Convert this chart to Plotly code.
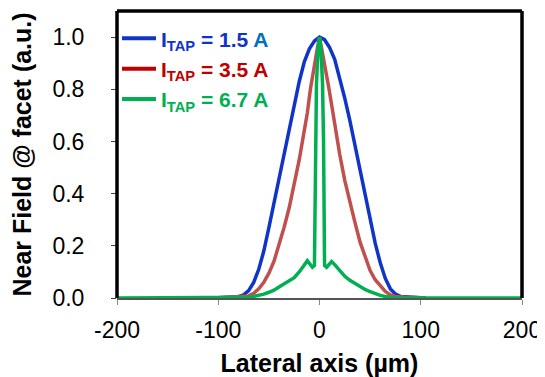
import plotly.graph_objects as go

# ---- data ----
blue_x = [-105, -100, -90, -80, -75, -70, -65, -60, -55, -50, -45, -40, -35, -30, -25, -20, -15, -10, -5, 0,
          5, 10, 15, 20, 25, 30, 35, 40, 45, 50, 55, 60, 65, 70, 75, 80, 90, 100, 105]
blue_y = [0.0, 0.002, 0.003, 0.005, 0.012, 0.028, 0.06, 0.11, 0.18, 0.27, 0.365, 0.465, 0.56, 0.655, 0.745, 0.83, 0.905, 0.955, 0.985, 1.0,
          0.99, 0.96, 0.915, 0.845, 0.765, 0.68, 0.585, 0.49, 0.395, 0.30, 0.21, 0.135, 0.075, 0.035, 0.015, 0.006, 0.003, 0.002, 0.0]

red_x = [-105, -95, -85, -75, -70, -65, -60, -55, -50, -45, -40, -35, -30, -25, -20, -16, -12, -9, -5, -2, 0,
         2, 5, 9, 12, 16, 20, 25, 30, 35, 40, 45, 50, 55, 60, 65, 70, 75, 85, 95, 105]
red_y = [0.0, 0.002, 0.003, 0.004, 0.008, 0.018, 0.035, 0.06, 0.095, 0.14, 0.20, 0.27, 0.345, 0.43, 0.53, 0.62, 0.71, 0.80, 0.90, 0.96, 1.0,
         0.96, 0.905, 0.81, 0.74, 0.64, 0.55, 0.45, 0.365, 0.29, 0.215, 0.155, 0.105, 0.07, 0.045, 0.025, 0.012, 0.006, 0.003, 0.002, 0.0]

green_x = [-200, -100, -75, -70, -65, -60, -55, -50, -45, -40, -35, -30, -25, -20, -15, -12, -7, -5, -4.5, -4, -3, -1.5, 0,
           1.5, 3, 4, 4.5, 5, 7, 12, 15, 20, 25, 30, 35, 40, 45, 50, 55, 60, 65, 70, 75, 100, 200]
green_y = [0.0, 0.0, 0.0, 0.003, 0.006, 0.01, 0.015, 0.022, 0.03, 0.042, 0.053, 0.065, 0.078, 0.1, 0.128, 0.143, 0.118, 0.125, 0.3, 0.6, 0.82, 0.95, 1.0,
           0.95, 0.82, 0.6, 0.3, 0.125, 0.118, 0.14, 0.128, 0.105, 0.083, 0.068, 0.055, 0.045, 0.033, 0.024, 0.016, 0.01, 0.006, 0.003, 0.0, 0.0, 0.0]

legend_names = [
    '<span style="color:#1034C8">I<sub>TAP</sub> = 1.5 </span><span style="color:#0070C0">A</span>',
    '<span style="color:#C00000">I<sub>TAP</sub> = 3.5 A</span>',
    '<span style="color:#00B050">I<sub>TAP</sub> = 6.7 A</span>',
]
legend_colors = ["#1034C8", "#C00000", "#00B050"]
curve_colors = ["#1034C8", "#C0504D", "#00B050"]

x_ticks = [-200, -100, 0, 100, 200]
x_tick_labels = ["-200", "-100", "0", "100", "200"]
y_ticks = [0.0, 0.2, 0.4, 0.6, 0.8, 1.0]

FONT = "Liberation Sans, Arial, sans-serif"

fig = go.Figure()
series = [(blue_x, blue_y), (red_x, red_y), (green_x, green_y)]
for (xs, ys), c in zip(series, curve_colors):
    fig.add_trace(go.Scatter(x=xs, y=ys, mode="lines", line=dict(color=c, width=3.5),
                             showlegend=False, hoverinfo="skip"))
for name, c in zip(legend_names, legend_colors):
    fig.add_trace(go.Scatter(x=[None], y=[None], mode="lines", name=name,
                             line=dict(color=c, width=4)))

# page body has an 8px default margin, so the figure is sized/offset to compensate
fig.update_layout(
    width=537, height=369,
    margin=dict(l=109, r=23, t=3, b=79, autoexpand=False),
    paper_bgcolor="white", plot_bgcolor="white",
    font=dict(family=FONT, color="black"),
    legend=dict(x=0.0, y=0.975, xanchor="left", yanchor="top", bgcolor="rgba(0,0,0,0)",
                font=dict(family=FONT, size=21, weight="bold"), tracegroupgap=0, itemwidth=34),
    xaxis=dict(range=[-200, 200], tickvals=x_ticks, ticktext=x_tick_labels, ticks="outside", ticklen=5,
               tickcolor="#888888", automargin=False, ticklabelstandoff=5,
               showline=True, linecolor="#555555", linewidth=2, layer="below traces",
               showgrid=False, zeroline=False, tickfont=dict(size=23),
               title=dict(text="<b>Lateral axis (µm)</b>", font=dict(size=25), standoff=23)),
    yaxis=dict(range=[0, 1.1], tickvals=y_ticks, tickformat=".1f", ticks="outside", ticklen=5,
               tickcolor="#444444", showline=False, showgrid=False, zeroline=False, automargin=False,
               tickfont=dict(size=23), ticklabelstandoff=22,
               title=dict(text="<b>Near Field @ facet (a.u.)</b>", font=dict(size=25), standoff=17)),
    shapes=[
        dict(type="line", xref="paper", yref="paper", x0=0, x1=0, y0=0, y1=1, line=dict(color="black", width=3.5)),
        dict(type="line", xref="paper", yref="paper", x0=0, x1=1, y0=1, y1=1, line=dict(color="black", width=3.5)),
        dict(type="line", xref="paper", yref="paper", x0=1, x1=1, y0=0, y1=1, line=dict(color="black", width=3.5)),
    ],
)

fig.write_html("out.html")
